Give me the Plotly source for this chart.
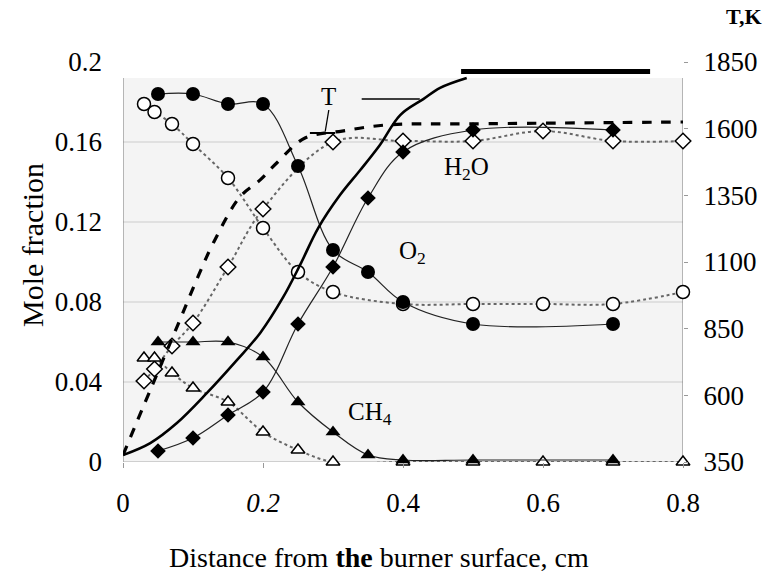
import plotly.graph_objects as go

# ---------------- data ----------------
# O2 (filled circles, measured) and open circles (computed)
o2_x = [0.05, 0.1, 0.15, 0.2, 0.25, 0.3, 0.35, 0.4, 0.5, 0.7]
o2_y = [0.184, 0.184, 0.179, 0.179, 0.148, 0.106, 0.095, 0.080, 0.069, 0.069]
o2o_x = [0.03, 0.045, 0.07, 0.1, 0.15, 0.2, 0.25, 0.3, 0.4, 0.5, 0.6, 0.7, 0.8]
o2o_y = [0.179, 0.175, 0.169, 0.159, 0.142, 0.117, 0.095, 0.085, 0.079, 0.079, 0.079, 0.079, 0.085]

# H2O (filled diamonds) and open diamonds
h2o_x = [0.05, 0.1, 0.15, 0.2, 0.25, 0.3, 0.35, 0.4, 0.5, 0.7]
h2o_y = [0.0055, 0.012, 0.0235, 0.035, 0.069, 0.0975, 0.132, 0.155, 0.166, 0.166]
h2oo_x = [0.03, 0.045, 0.07, 0.1, 0.15, 0.2, 0.3, 0.4, 0.5, 0.6, 0.7, 0.8]
h2oo_y = [0.0405, 0.0465, 0.058, 0.0695, 0.0975, 0.1265, 0.160, 0.1605, 0.1605, 0.1655, 0.1605, 0.1605]

# CH4 (filled triangles) and open triangles
ch4_x = [0.05, 0.1, 0.15, 0.2, 0.25, 0.3, 0.35, 0.4, 0.5, 0.7]
ch4_y = [0.060, 0.060, 0.060, 0.0525, 0.030, 0.015, 0.0035, 0.001, 0.001, 0.001]
ch4o_x = [0.03, 0.045, 0.07, 0.1, 0.15, 0.2, 0.25, 0.3, 0.4, 0.5, 0.6, 0.7, 0.8]
ch4o_y = [0.052, 0.052, 0.0445, 0.037, 0.030, 0.015, 0.006, 0.0, 0.0, 0.0, 0.0, 0.0, 0.0]

# Temperature profiles (right axis, K)
t_dash_x = [0.0, 0.039, 0.077, 0.107, 0.129, 0.167, 0.196, 0.221, 0.26, 0.313, 0.377, 0.5, 0.8]
t_dash_y = [376, 620, 856, 1044, 1171, 1344, 1408, 1475, 1565, 1591, 1614, 1618, 1625]
t_solid_x = [0.0, 0.039, 0.077, 0.12, 0.163, 0.196, 0.229, 0.253, 0.279, 0.31, 0.339, 0.367, 0.396, 0.429, 0.453, 0.491]
t_solid_y = [376, 421, 496, 609, 733, 834, 969, 1089, 1228, 1351, 1445, 1539, 1651, 1711, 1753, 1790]
t_bar_x = [0.483, 0.753]
t_bar_y = [1814, 1814]

x_ticks = [0, 0.2, 0.4, 0.6, 0.8]
x_ticktext = ["0", "<i>0.2</i>", "0.4", "0.6", "0.8"]
y_ticks = [0, 0.04, 0.08, 0.12, 0.16, 0.2]
y_ticktext = ["0", "0.04", "0.08", "0.12", "0.16", "0.2"]
grid_vals = [0.04, 0.08, 0.12, 0.16]
t_ticks = [350, 600, 850, 1100, 1350, 1600, 1850]

SERIF = "Liberation Serif, Times New Roman, serif"
BG_TOP = 0.192

fig = go.Figure()

# temperature lines (right axis)
fig.add_trace(go.Scatter(x=t_dash_x, y=t_dash_y, yaxis="y2", mode="lines",
                         line=dict(color="black", width=3.2, dash="dash", shape="spline"),
                         cliponaxis=False, showlegend=False))
fig.add_trace(go.Scatter(x=t_solid_x, y=t_solid_y, yaxis="y2", mode="lines",
                         line=dict(color="black", width=2.6, shape="spline"),
                         cliponaxis=False, showlegend=False))
fig.add_trace(go.Scatter(x=t_bar_x, y=t_bar_y, yaxis="y2", mode="lines",
                         line=dict(color="black", width=5),
                         cliponaxis=False, showlegend=False))

def open_series(x, y, sym, size):
    fig.add_trace(go.Scatter(
        x=x, y=y, mode="lines+markers",
        line=dict(color="#666666", width=2, dash="dot", shape="spline"),
        marker=dict(symbol=sym, size=size, color="white", line=dict(color="black", width=1.5)),
        cliponaxis=False, showlegend=False))

def filled_series(x, y, sym, size):
    fig.add_trace(go.Scatter(
        x=x, y=y, mode="lines+markers",
        line=dict(color="#222222", width=1.2, shape="spline"),
        marker=dict(symbol=sym, size=size, color="black", line=dict(color="black", width=0)),
        cliponaxis=False, showlegend=False))

open_series(o2o_x, o2o_y, "circle", 13)
open_series(h2oo_x, h2oo_y, "diamond", 12)
open_series(ch4o_x, ch4o_y, "triangle-up", 12)
filled_series(o2_x, o2_y, "circle", 14)
filled_series(h2o_x, h2o_y, "diamond", 12)
filled_series(ch4_x, ch4_y, "triangle-up", 13)

shapes = [
    dict(type="rect", xref="x", yref="y", x0=0, x1=0.8, y0=0, y1=BG_TOP,
         fillcolor="#f4f4f4", line=dict(width=0), layer="below"),
]
for g in grid_vals:
    shapes.append(dict(type="line", xref="x", yref="y", x0=0, x1=0.8, y0=g, y1=g,
                       line=dict(color="#cccccc", width=1), layer="below"))
shapes += [
    dict(type="line", xref="x", yref="y", x0=0, x1=0, y0=0, y1=BG_TOP,
         line=dict(color="#777777", width=1), layer="below"),
    dict(type="line", xref="x", yref="y", x0=0.8, x1=0.8, y0=0, y1=BG_TOP,
         line=dict(color="#777777", width=1), layer="below"),
    dict(type="line", xref="x", yref="y", x0=0, x1=0.8, y0=0, y1=0,
         line=dict(color="#aaaaaa", width=1), layer="below"),
    # T label leaders
    dict(type="line", xref="x", yref="y", x0=0.294, x1=0.289, y0=0.176, y1=0.1655,
         line=dict(color="black", width=1.3)),
    dict(type="line", xref="x", yref="y", x0=0.267, x1=0.303, y0=0.1645, y1=0.1645,
         line=dict(color="black", width=2)),
    dict(type="line", xref="x", yref="y", x0=0.341, x1=0.424, y0=0.1815, y1=0.1815,
         line=dict(color="black", width=1.3)),
]

ann_font = dict(family=SERIF, size=25, color="black")
annotations = [
    dict(x=0.293, y=0.183, xref="x", yref="y", text="T", showarrow=False, font=ann_font),
    dict(x=0.491, y=0.147, xref="x", yref="y", text="H<sub>2</sub>O", showarrow=False, font=ann_font),
    dict(x=0.413, y=0.105, xref="x", yref="y", text="O<sub>2</sub>", showarrow=False, font=ann_font),
    dict(x=0.353, y=0.0245, xref="x", yref="y", text="CH<sub>4</sub>", showarrow=False, font=ann_font),
    dict(x=1.109, y=1.1125, xref="paper", yref="paper", xanchor="center", yanchor="middle",
         text="<b>T,K</b>", showarrow=False,
         font=dict(family=SERIF, size=22, color="black")),
    dict(x=-0.1625, y=0.5425, xref="paper", yref="paper", xanchor="center", yanchor="middle",
         text="Mole fraction", textangle=-90,
         showarrow=False, font=dict(family=SERIF, size=30, color="black")),
    dict(x=0.457, y=-0.2375, xref="paper", yref="paper", xanchor="center", yanchor="middle",
         text="Distance from <b>the</b> burner surface, cm", showarrow=False,
         font=dict(family=SERIF, size=28, color="black")),
]

fig.update_layout(
    width=771, height=574,
    margin=dict(l=123, r=88, t=62, b=112),
    paper_bgcolor="white", plot_bgcolor="white",
    showlegend=False,
    shapes=shapes, annotations=annotations,
    xaxis=dict(range=[0, 0.8], tickvals=x_ticks, ticktext=x_ticktext,
               showgrid=False, zeroline=False, showline=False,
               ticks="outside", ticklen=5, tickcolor="#999999",
               tickfont=dict(family=SERIF, size=27, color="black"), ticklabelstandoff=12),
    yaxis=dict(range=[0, 0.2], tickvals=y_ticks, ticktext=y_ticktext,
               showgrid=False, zeroline=False, showline=False, ticks="",
               tickfont=dict(family=SERIF, size=27, color="black"), ticklabelstandoff=20),
    yaxis2=dict(range=[350, 1850], tickvals=t_ticks, overlaying="y", side="right",
                showgrid=False, zeroline=False, showline=False,
                ticks="outside", ticklen=4, tickcolor="#999999",
                tickfont=dict(family=SERIF, size=27, color="black"), ticklabelstandoff=10),
)

fig.write_html("out.html")
